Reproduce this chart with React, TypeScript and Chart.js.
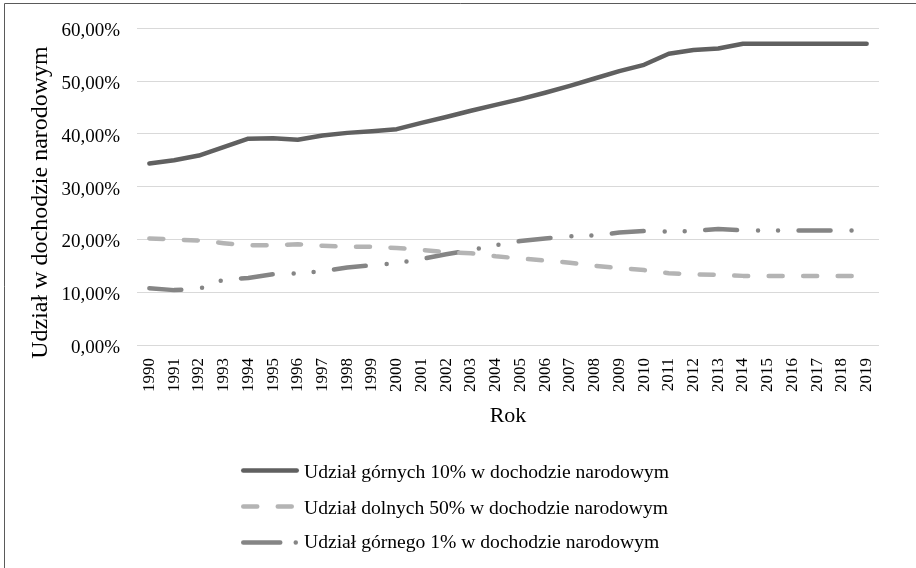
import React, { useEffect, useRef } from 'react';
import { Chart, registerables } from 'chart.js';

Chart.register(...registerables);

const years = [
  '1990', '1991', '1992', '1993', '1994', '1995', '1996', '1997', '1998', '1999',
  '2000', '2001', '2002', '2003', '2004', '2005', '2006', '2007', '2008', '2009',
  '2010', '2011', '2012', '2013', '2014', '2015', '2016', '2017', '2018', '2019',
];

const seriesNames = [
  'Udział górnych 10% w dochodzie narodowym',
  'Udział dolnych 50% w dochodzie narodowym',
  'Udział górnego 1% w dochodzie narodowym',
];

const top10 = [
  34.4, 35.0, 35.9, 37.5, 39.1, 39.2, 38.9, 39.7, 40.2, 40.5,
  40.9, 42.1, 43.2, 44.4, 45.5, 46.6, 47.8, 49.1, 50.5, 51.9,
  53.1, 55.2, 55.9, 56.2, 57.1, 57.1, 57.1, 57.1, 57.1, 57.1,
];

const bottom50 = [
  20.2, 20.0, 19.8, 19.3, 18.9, 18.9, 19.1, 18.8, 18.6, 18.6,
  18.4, 18.0, 17.6, 17.4, 16.8, 16.4, 16.0, 15.6, 15.0, 14.6,
  14.2, 13.6, 13.4, 13.3, 13.1, 13.1, 13.1, 13.1, 13.1, 13.1,
];

const top1 = [
  10.75, 10.4, 10.6, 12.4, 12.7, 13.4, 13.6, 14.0, 14.7, 15.1,
  15.5, 16.3, 17.2, 18.0, 18.9, 19.7, 20.2, 20.6, 20.8, 21.3,
  21.6, 21.5, 21.6, 22.0, 21.7, 21.7, 21.7, 21.7, 21.7, 21.7,
];

const yMin = 0;
const yMax = 60;
const yStep = 10;

const xTitle = 'Rok';
const yTitle = 'Udział w dochodzie narodowym';

const FONT = '"Liberation Serif", "Times New Roman", serif';
const colors = ['#606060', '#b4b4b4', '#858585'];
const dashes: number[][] = [[], [14, 20.5], [32, 21, 0, 20, 0, 20.5]];
const legendDashes: number[][] = [[], [14, 20.5], [37, 15.5, 0, 200]];

const decorPlugin = {
  id: 'decor',
  afterDraw(chart: any) {
    const ctx: CanvasRenderingContext2D = chart.ctx;
    ctx.save();
    // outer frame (only left/top edges are inside the picture)
    ctx.strokeStyle = '#5a5a5a';
    ctx.lineWidth = 1;
    ctx.beginPath();
    ctx.moveTo(4.5, chart.height + 10);
    ctx.lineTo(4.5, 3.5);
    ctx.lineTo(chart.width + 10, 3.5);
    ctx.stroke();

    // y axis title
    ctx.font = `24px ${FONT}`;
    ctx.fillStyle = '#000';
    ctx.textAlign = 'center';
    ctx.textBaseline = 'middle';
    ctx.translate(41, 202.5);
    ctx.rotate(-Math.PI / 2);
    ctx.fillText(yTitle, 0, 0);
    ctx.restore();

    // legend
    const lineYs = [470.5, 506.5, 542.5];
    const textYs = [478, 513.5, 548];
    chart.data.datasets.forEach((ds: any, i: number) => {
      ctx.save();
      ctx.strokeStyle = ds.borderColor;
      ctx.lineWidth = ds.borderWidth;
      ctx.lineCap = 'round';
      ctx.setLineDash(legendDashes[i]);
      ctx.beginPath();
      ctx.moveTo(243.25, lineYs[i]);
      ctx.lineTo(296.75, lineYs[i]);
      ctx.stroke();
      ctx.setLineDash([]);
      ctx.font = `19.6px ${FONT}`;
      ctx.fillStyle = '#000';
      ctx.textAlign = 'left';
      ctx.textBaseline = 'alphabetic';
      ctx.fillText(ds.label, 304, textYs[i]);
      ctx.restore();
    });
  },
};

export default function App() {
  const canvasRef = useRef<HTMLCanvasElement | null>(null);

  useEffect(() => {
    const canvas = canvasRef.current;
    if (!canvas) return;
    const seriesData = [top10, bottom50, top1];
    const chart = new Chart(canvas, {
      type: 'line',
      data: {
        labels: years,
        datasets: seriesData.map((d, i) => ({
          label: seriesNames[i],
          data: d,
          borderColor: colors[i],
          backgroundColor: colors[i],
          borderWidth: 4.5,
          borderDash: dashes[i],
          borderCapStyle: 'round',
          borderJoinStyle: 'round',
          pointRadius: 0,
          tension: 0,
          fill: false,
        })),
      },
      options: {
        responsive: false,
        maintainAspectRatio: false,
        animation: false,
        devicePixelRatio: 1,
        layout: { padding: { left: 0, right: 37, top: 25, bottom: 123 } },
        plugins: {
          legend: { display: false },
          tooltip: { enabled: false },
        },
        scales: {
          x: {
            type: 'category',
            offset: true,
            grid: { display: false, drawTicks: false },
            border: { display: false },
            ticks: {
              minRotation: 90,
              maxRotation: 90,
              autoSkip: false,
              padding: 13,
              color: '#000',
              font: { family: FONT, size: 17 },
            },
            title: {
              display: true,
              text: xTitle,
              color: '#000',
              font: { family: FONT, size: 22 },
              padding: { top: 0, bottom: 16 },
            },
            afterFit: (s: any) => {
              s.height = 100;
            },
          },
          y: {
            min: yMin,
            max: yMax,
            grid: { color: '#d9d9d9', lineWidth: 1, drawTicks: false },
            border: { display: false },
            ticks: {
              stepSize: yStep,
              padding: 17,
              labelOffset: 3,
              color: '#000',
              font: { family: FONT, size: 19 },
              callback: (v: any) => `${Number(v).toFixed(2).replace('.', ',')}%`,
            },
            afterFit: (s: any) => {
              s.width = 137;
            },
          },
        },
      },
      plugins: [decorPlugin],
    } as any);
    return () => chart.destroy();
  }, []);

  return (
    <div style={{ position: 'absolute', left: 0, top: 0, width: 916, height: 568, background: '#fff' }}>
      <canvas ref={canvasRef} width={916} height={568} style={{ display: 'block' }} />
    </div>
  );
}
